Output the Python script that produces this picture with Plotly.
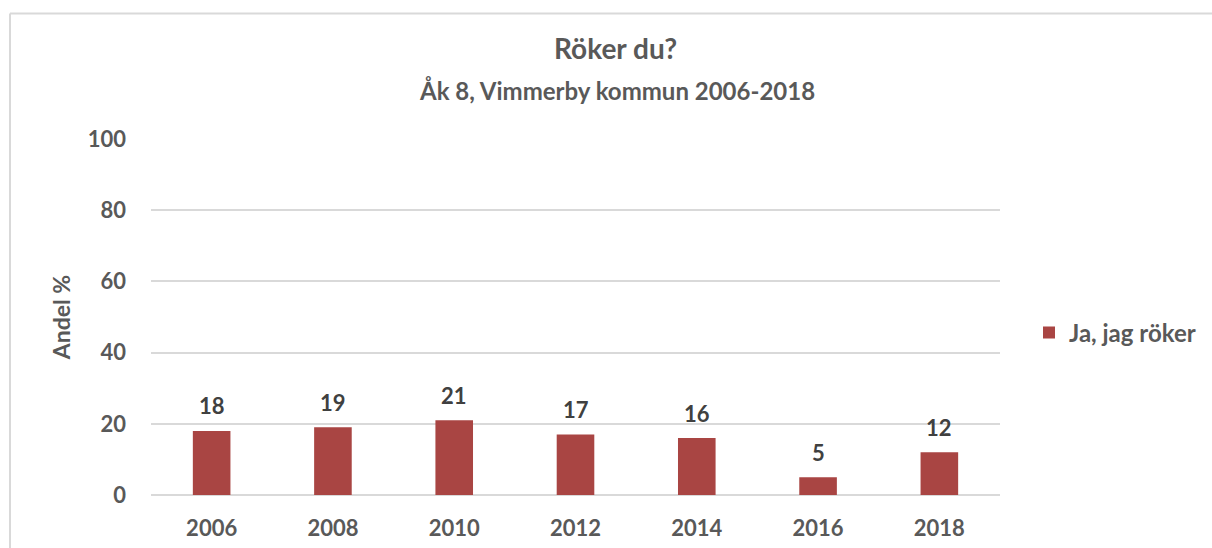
import plotly.graph_objects as go

years = ["2006", "2008", "2010", "2012", "2014", "2016", "2018"]
values = [18, 19, 21, 17, 16, 5, 12]
series_name = "Ja, jag röker"
title = "Röker du?"
subtitle = "Åk 8, Vimmerby kommun 2006-2018"
y_title = "Andel %"
y_ticks = [0, 20, 40, 60, 80, 100]

FONT = "Lato, 'Open Sans', sans-serif"
BAR = "#A94543"
GRID = "#D9D9D9"
TXT = "#595959"
LBL = "#404040"

L, R, T, B = 151, 212, 139, 53
W, H = 1212, 548
pw, ph = W - L - R, H - T - B


def px(xp):
    return (xp - L) / pw


def py(yp):
    return (H - B - yp) / ph


fig = go.Figure()
fig.add_trace(go.Bar(
    x=years, y=values, name=f"<b>{series_name}</b>",
    marker=dict(color=BAR, line=dict(width=0)),
    showlegend=True,
))

# data labels (x given as category index so numeric-looking names are not misread)
for i, v in enumerate(values):
    fig.add_annotation(x=i, y=v, xref="x", yref="y", text=f"<b>{v}</b>",
                       showarrow=False, yshift=25, yanchor="middle",
                       font=dict(family=FONT, size=22, color=LBL))

fig.add_annotation(x=px(615), y=py(48), xref="paper", yref="paper",
                   xanchor="center", yanchor="middle",
                   text=f"<b>{title}</b>", showarrow=False,
                   font=dict(family=FONT, size=28, color=TXT))
fig.add_annotation(x=px(617), y=py(90), xref="paper", yref="paper",
                   xanchor="center", yanchor="middle",
                   text=f"<b>{subtitle}</b>", showarrow=False,
                   font=dict(family=FONT, size=24, color=TXT))

# chart border (top and left visible)
fig.add_shape(type="line", xref="paper", yref="paper",
              x0=px(10), x1=px(1300), y0=py(13.5), y1=py(13.5),
              line=dict(color=GRID, width=2))
fig.add_shape(type="line", xref="paper", yref="paper",
              x0=px(10), x1=px(10), y0=py(13.5), y1=py(700),
              line=dict(color=GRID, width=2))

fig.update_layout(
    width=W, height=H,
    margin=dict(l=L, r=R, t=T, b=B, autoexpand=False),
    paper_bgcolor="white", plot_bgcolor="white",
    bargap=0.69,
    font=dict(family=FONT, color=TXT),
    legend=dict(x=px(1029), y=py(333), xanchor="left", yanchor="middle",
                font=dict(family=FONT, size=24, color=TXT),
                itemwidth=30, bgcolor="rgba(0,0,0,0)"),
    xaxis=dict(type="category", range=[-0.5, len(years) - 0.5],
               showgrid=False, showline=False, ticks="",
               tickvals=years, ticktext=[f"<b>{y}</b>" for y in years],
               tickfont=dict(family=FONT, size=22, color=TXT),
               ticklabelstandoff=18),
    yaxis=dict(range=[0, 100], tickvals=y_ticks,
               ticktext=[f"<b>{t}</b>" for t in y_ticks],
               showgrid=True, gridcolor=GRID,
               gridwidth=1.5, zeroline=True, zerolinecolor=GRID, zerolinewidth=1.5,
               showline=False, ticks="",
               tickfont=dict(family=FONT, size=22, color=TXT),
               ticklabelstandoff=24,
               title=dict(text=f"<b>{y_title}</b>", standoff=10,
                          font=dict(family=FONT, size=23, color=TXT))),
)

fig.write_html("out.html", config={"displayModeBar": False},
               post_script="document.body.style.margin='0';")
